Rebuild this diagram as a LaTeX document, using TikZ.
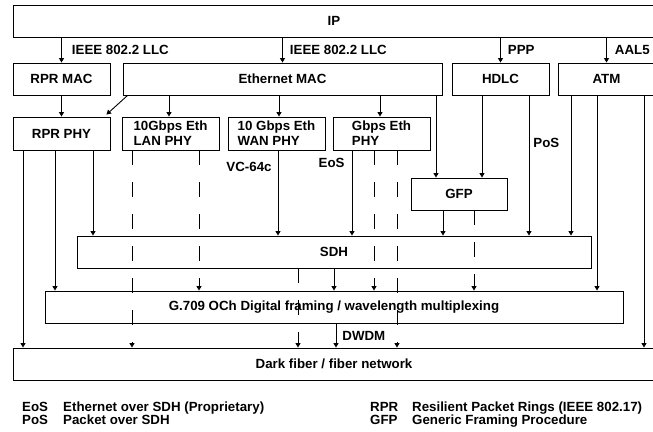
\documentclass[tikz,border=0pt]{standalone}
\usepackage{fontspec}
\setmainfont{Liberation Sans}
\usepackage{tikz}
\usetikzlibrary{arrows.meta, positioning}

\begin{document}
\begin{tikzpicture}[x=1pt, y=-1pt,
      box/.style={draw, line width=0.9pt, minimum height=32pt, inner sep=0pt, align=center, font=\fontsize{13.3}{15}\selectfont\bfseries},
      phy/.style={box, minimum width=97pt, minimum height=33pt, align=left},
      lbl/.style={inner sep=1pt, font=\fontsize{13.3}{15}\selectfont\bfseries},
      arrow/.style={-{Triangle[length=4.5pt, width=5pt]}, line width=0.9pt},
      dasharrow/.style={arrow, dash pattern=on 15pt off 17pt}
    ]
      \useasboundingbox (0,0) rectangle (653,431);
      \clip (0,0) rectangle (653,431);

      % layers
      \node[box, minimum width=642pt] (ip) at (334,21) {IP};
      \node[box, minimum width=97pt] (rprmac) at (61.5,79) {RPR MAC};
      \node[box, minimum width=319pt] (ethmac) at (282.5,79) {Ethernet MAC};
      \node[box, minimum width=97pt] (hdlc) at (500.5,79) {HDLC};
      \node[box, minimum width=97pt] (atm) at (606.5,79) {ATM};
      \node[phy, align=center] (rprphy) at (61.5,133.5) {RPR PHY};
      \node[phy] (lanphy) at (170.5,133.5) {10Gbps Eth\\LAN PHY};
      \node[phy] (wanphy) at (276.5,133.5) {10 Gbps Eth\\WAN PHY};
      \node[phy] (gbeth) at (381.5,133.5) {Gbps Eth\\PHY};
      \node[box, minimum width=96pt] (gfp) at (459,194) {GFP};
      \node[box, minimum width=514pt] (sdh) at (334,252) {SDH};
      \node[box, minimum width=578pt] (och) at (334,307) {G.709 OCh Digital framing / wavelength multiplexing};
      \node[box, minimum width=642pt] (dark) at (334,364) {Dark fiber / fiber network};

      % from IP
      \draw[arrow] (ip.south -| rprmac.north) -- node[lbl, right=9pt] (llc1) {IEEE 802.2 LLC} (rprmac.north);
      \draw[arrow] (ip.south -| ethmac.north) -- node[lbl, right=6pt] (llc2) {IEEE 802.2 LLC} (ethmac.north);
      \draw[arrow] (ip.south -| hdlc.north) -- node[lbl, right=6pt] (ppp) {PPP} (hdlc.north);
      \draw[arrow] (ip.south -| atm.north) -- node[lbl, right=7pt] (aal) {AAL5} (atm.north);

      % MAC layer
      \draw[arrow] (rprmac) -- (rprphy);
      \draw[arrow] ([xshift=5]ethmac.south west) -- ([shift={(-4,-2)}]rprphy.north east);
      \foreach \dx/\to in {-113.5/lanphy, -3.5/wanphy, 97.5/gbeth, 153.5/gfp}
        \draw[arrow] ([xshift=\dx]ethmac.south) coordinate (p) -- (p |- \to.north);
      \draw[arrow] ([xshift=-18.5]hdlc.south) coordinate (p) -- (p |- gfp.north);
      \draw[arrow] ([xshift=28.5]hdlc.south) coordinate (p) -- node[lbl, pos=0.34, right=3pt] (pos) {PoS} (p |- sdh.north);
      \foreach \dx/\to in {-35.5/sdh, -9.5/och, 37.5/dark}
        \draw[arrow] ([xshift=\dx]atm.south) coordinate (p) -- (p |- \to.north);

      % PHY layer
      \foreach \dx/\to in {-38.5/dark, -6.5/och, 31.5/sdh}
        \draw[arrow] ([xshift=\dx]rprphy.south) coordinate (p) -- (p |- \to.north);
      \foreach \dx/\to in {-38.5/dark, 28.5/och}
        \draw[dasharrow] ([xshift=\dx]lanphy.south) coordinate (p) -- (p |- \to.north);
      \draw[arrow] ([xshift=1.5]wanphy.south) coordinate (p) -- node[lbl, pos=0.19, left=5pt] (vc) {VC-64c} (p |- sdh.north);
      \draw[arrow] ([xshift=-29.5]gbeth.south) coordinate (p) -- node[lbl, pos=0.15, left=6pt] (eos) {EoS} (p |- sdh.north);
      \draw[dasharrow] ([xshift=-7.5]gbeth.south) coordinate (p) -- (p |- och.north);
      \draw[dasharrow] ([xshift=15.5]gbeth.south) coordinate (p) -- (p |- dark.north);
      \draw[arrow] ([xshift=-16]gfp.south) coordinate (p) -- (p |- sdh.north);
      \draw[dasharrow] ([xshift=15]gfp.south) coordinate (p) -- (p |- och.north);

      % SDH and OCh
      \draw[arrow] (sdh) -- (och);
      \draw[dasharrow] ([xshift=-36]sdh.south) coordinate (p) -- (p |- dark.north);
      \draw[arrow] ([xshift=2]och.south) coordinate (p) -- node[lbl, right=5pt] (dwdm) {DWDM} (p |- dark.north);

      % legend
      \node[lbl, anchor=base west] (eosk) at (21,411.5) {EoS};
      \node[lbl, anchor=base west] (eosv) at (62,411.5) {Ethernet over SDH (Proprietary)};
      \node[lbl, anchor=base west] (posk) at (21,424.5) {PoS};
      \node[lbl, anchor=base west] (posv) at (62,424.5) {Packet over SDH};
      \node[lbl, anchor=base west] (rprk) at (369,411.5) {RPR};
      \node[lbl, anchor=base west] (rprv) at (411,411.5) {Resilient Packet Rings (IEEE 802.17)};
      \node[lbl, anchor=base west] (gfpk) at (369,424.5) {GFP};
      \node[lbl, anchor=base west] (gfpv) at (411,424.5) {Generic Framing Procedure};
    \end{tikzpicture}
\end{document}
